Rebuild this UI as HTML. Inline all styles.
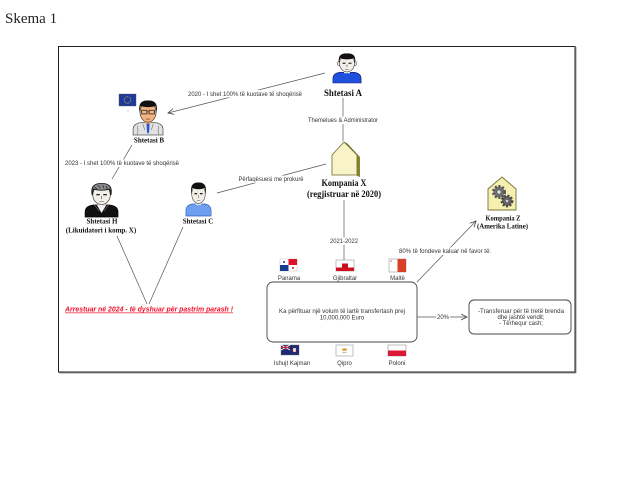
<!DOCTYPE html>
<html>
<head>
<meta charset="utf-8">
<style>
  html,body{margin:0;padding:0;background:#fff;}
  body{width:632px;height:480px;overflow:hidden;}
  svg{display:block;}
  .s{font-family:"Liberation Sans",sans-serif;font-size:6px;fill:#333;}
  .b{font-family:"Liberation Serif",serif;font-weight:bold;fill:#111;}
  .ln{stroke:#555;stroke-width:0.7;fill:none;}
</style>
</head>
<body>
<svg width="632" height="480" viewBox="0 0 632 480" xmlns="http://www.w3.org/2000/svg">
  <defs>
    <marker id="ah" markerWidth="8" markerHeight="8" refX="6" refY="3" orient="auto" markerUnits="userSpaceOnUse">
      <path d="M0,0 L6,3 L0,6" fill="none" stroke="#444" stroke-width="0.8"/>
    </marker>
  </defs>

  <!-- Title -->
  <text x="5" y="23" font-family="Liberation Serif, serif" font-size="15" fill="#222">Skema 1</text>

  <!-- Frame -->
  <line x1="576" y1="47" x2="576" y2="373" stroke="#999" stroke-width="1"/>
  <line x1="59" y1="373" x2="576" y2="373" stroke="#999" stroke-width="1"/>
  <rect x="58.5" y="46.5" width="516.5" height="325.5" fill="none" stroke="#222" stroke-width="1"/>

  <!-- Connectors -->
  <line class="ln" x1="325" y1="73" x2="168" y2="113" marker-end="url(#ah)"/>
  <line class="ln" x1="132" y1="145" x2="112" y2="179"/>
  <line class="ln" x1="217" y1="193" x2="326" y2="164"/>
  <line class="ln" x1="343" y1="98" x2="343" y2="141"/>
  <line class="ln" x1="344" y1="200" x2="344" y2="260"/>
  <line class="ln" x1="117" y1="236" x2="147" y2="304"/>
  <line class="ln" x1="183" y1="227" x2="149" y2="304"/>
  <line class="ln" x1="417" y1="282" x2="476" y2="221" marker-end="url(#ah)"/>
  <line class="ln" x1="417" y1="317" x2="467" y2="317" marker-end="url(#ah)"/>

  <!-- Connector labels -->
  <rect x="188" y="90" width="114" height="7.5" fill="#fff"/>
  <text class="s" x="245" y="96" text-anchor="middle" textLength="114" lengthAdjust="spacingAndGlyphs">2020 - I shet 100% të kuotave të shoqërisë</text>

  <rect x="65" y="159.5" width="114" height="7.5" fill="#fff"/>
  <text class="s" x="122" y="165" text-anchor="middle" textLength="114" lengthAdjust="spacingAndGlyphs">2023 - I shet 100% të kuotave të shoqërisë</text>

  <rect x="238" y="175.5" width="65" height="7.5" fill="#fff"/>
  <text class="s" x="271" y="181" text-anchor="middle" textLength="65" lengthAdjust="spacingAndGlyphs">Përfaqësuesi me prokurë</text>

  <rect x="307" y="116.5" width="72" height="7.5" fill="#fff"/>
  <text class="s" x="343" y="122" text-anchor="middle" textLength="70" lengthAdjust="spacingAndGlyphs">Themelues &amp; Administrator</text>

  <rect x="329" y="237.5" width="30" height="7.5" fill="#fff"/>
  <text class="s" x="344" y="243" text-anchor="middle" textLength="28" lengthAdjust="spacingAndGlyphs">2021-2022</text>

  <rect x="399" y="247.5" width="92" height="7.5" fill="#fff"/>
  <text class="s" x="445" y="253" text-anchor="middle" textLength="92" lengthAdjust="spacingAndGlyphs">80% të fondeve kaluar në favor të:</text>

  <rect x="436" y="313.5" width="14" height="7" fill="#fff"/>
  <text class="s" x="443" y="319" text-anchor="middle" textLength="12" lengthAdjust="spacingAndGlyphs">20%</text>

  <!-- Shtetasi A -->
  <g transform="translate(332,53) scale(1,0.88)">
    <path d="M1,34 L1,29 Q1,23 8,22 L22,22 Q29,23 29,29 L29,34 Z" fill="#2050e0" stroke="#102080" stroke-width="0.8"/>
    <rect x="12" y="17" width="6" height="6" fill="#eee9e0"/>
    <ellipse cx="7" cy="12" rx="1.6" ry="2.6" fill="#eee9e0" stroke="#333" stroke-width="0.5"/>
    <ellipse cx="23" cy="12" rx="1.6" ry="2.6" fill="#eee9e0" stroke="#333" stroke-width="0.5"/>
    <ellipse cx="15" cy="12" rx="7.5" ry="9.5" fill="#f2eee8" stroke="#333" stroke-width="0.6"/>
    <path d="M7,12 Q5,0 15,0.5 Q25,0 23,12 L22,6 Q15,8.5 8,6 Z" fill="#111"/>
    <rect x="10.5" y="11" width="3" height="1.3" fill="#222"/>
    <rect x="16.5" y="11" width="3" height="1.3" fill="#222"/>
    <path d="M15,13 L15,16 M13,18.5 L17,18.5" stroke="#555" stroke-width="0.6"/>
  </g>
  <text class="b" x="343" y="96" font-size="9" text-anchor="middle" textLength="38" lengthAdjust="spacingAndGlyphs">Shtetasi A</text>

  <!-- EU flag -->
  <rect x="119" y="94" width="17" height="12" fill="#1f3a9a" stroke="#556" stroke-width="0.4"/>
  <circle cx="127.5" cy="100" r="3.3" fill="none" stroke="#e8d020" stroke-width="0.8" stroke-dasharray="0.8 0.9"/>
  <rect x="127.5" y="110.5" width="1" height="1" fill="#999"/>

  <!-- Shtetasi B -->
  <g transform="translate(132,100) scale(1.07,1.03)">
    <path d="M1,34 L1,29 Q1,23 8,22 L22,22 Q29,23 29,29 L29,34 Z" fill="#e2e2e2" stroke="#555" stroke-width="0.7"/>
    <path d="M5,25 Q6,30 5,34 M25,25 Q24,30 25,34 M10,23 L12,29 M20,23 L18,29" stroke="#777" stroke-width="0.6" fill="none"/>
    <path d="M13.5,22 L16.5,22 L16,31 L15,33 L14,31 Z" fill="#2a4fd0"/>
    <rect x="12" y="17" width="6" height="6" fill="#f0a870"/>
    <ellipse cx="15" cy="12" rx="7.5" ry="9.5" fill="#f4b27c" stroke="#333" stroke-width="0.6"/>
    <path d="M7,12 Q5,0 15,0.5 Q25,0 23,12 L22,6 Q15,8 8,6 Z" fill="#111"/>
    <rect x="9" y="10" width="5" height="3.5" fill="none" stroke="#333" stroke-width="0.8"/>
    <rect x="16" y="10" width="5" height="3.5" fill="none" stroke="#333" stroke-width="0.8"/>
    <line x1="14" y1="11.5" x2="16" y2="11.5" stroke="#333" stroke-width="0.6"/>
    <path d="M13,18.5 L17,18.5" stroke="#633" stroke-width="0.6"/>
  </g>
  <text class="b" x="149" y="142.5" font-size="7" text-anchor="middle">Shtetasi B</text>

  <!-- Shtetasi H -->
  <g transform="translate(84,183) scale(1.17,1)">
    <path d="M1,34 L1,29 Q1,23 8,22 L22,22 Q29,23 29,29 L29,34 Z" fill="#111" stroke="#000" stroke-width="0.7"/>
    <path d="M11,22 L15,30 L19,22 Z" fill="#f4f4f4"/>
    <path d="M9,22 L13,28 M21,22 L17,28" stroke="#777" stroke-width="0.6"/>
    <rect x="12" y="17" width="6" height="6" fill="#eee9e0"/>
    <ellipse cx="15" cy="12" rx="7.5" ry="9.5" fill="#f2eee8" stroke="#333" stroke-width="0.6"/>
    <path d="M7,12 Q5,0 15,0.5 Q25,0 23,12 L22,6 Q15,8.5 8,6 Z" fill="#888" stroke="#111" stroke-width="0.8"/>
    <path d="M9,4 L11,6 M12,2 L14,5 M16,2 L17,5 M19,3 L20,6" stroke="#222" stroke-width="0.6"/>
    <rect x="10.5" y="11" width="3" height="1.3" fill="#222"/>
    <rect x="16.5" y="11" width="3" height="1.3" fill="#222"/>
    <path d="M15,13 L15,16 M13,18.5 L17,18.5" stroke="#555" stroke-width="0.6"/>
  </g>
  <text class="b" x="102" y="223.5" font-size="7" text-anchor="middle">Shtetasi H</text>
  <text class="b" x="101" y="232.5" font-size="7" text-anchor="middle">(Likuidatori i komp. X)</text>

  <!-- Shtetasi C -->
  <g transform="translate(185,182) scale(0.9,1)">
    <path d="M1,34 L1,29 Q1,23 8,22 L22,22 Q29,23 29,29 L29,34 Z" fill="#6fa0f0" stroke="#3060c0" stroke-width="0.7"/>
    <rect x="12" y="17" width="6" height="6" fill="#eee9e0"/>
    <ellipse cx="15" cy="12" rx="7.5" ry="9.5" fill="#f2eee8" stroke="#333" stroke-width="0.6"/>
    <path d="M7,12 Q5,0 15,0.5 Q25,0 23,12 L22,6 Q15,8.5 8,6 Z" fill="#111"/>
    <rect x="10.5" y="11" width="3" height="1.3" fill="#222"/>
    <rect x="16.5" y="11" width="3" height="1.3" fill="#222"/>
    <path d="M15,13 L15,16 M13,18.5 L17,18.5" stroke="#555" stroke-width="0.6"/>
  </g>
  <text class="b" x="198" y="223.5" font-size="7" text-anchor="middle">Shtetasi C</text>

  <!-- Kompania X -->
  <polygon points="347,143 360,157 360,177 357,176 357,156 344,142" fill="#8a8430"/>
  <polygon points="344,142 332,155 332,175 357,175 357,155" fill="#f8f4c8" stroke="#6a6630" stroke-width="0.8"/>
  <text class="b" x="344" y="186" font-size="9" text-anchor="middle" textLength="45" lengthAdjust="spacingAndGlyphs">Kompania X</text>
  <text class="b" x="344" y="197" font-size="9" text-anchor="middle" textLength="74" lengthAdjust="spacingAndGlyphs">(regjistruar në 2020)</text>

  <!-- Kompania Z -->
  <polygon points="502,177 488,189 488,210 516,210 516,189" fill="#f6f0b0" stroke="#77733a" stroke-width="0.9"/>
  <circle cx="499" cy="192" r="5.5" fill="#777" stroke="#555" stroke-width="3" stroke-dasharray="2 1.6"/>
  <circle cx="499" cy="192" r="2.2" fill="#ddd" stroke="#333" stroke-width="0.6"/>
  <circle cx="507" cy="201" r="5" fill="#666" stroke="#444" stroke-width="2.8" stroke-dasharray="1.9 1.5"/>
  <circle cx="507" cy="201" r="1.8" fill="#ccc" stroke="#333" stroke-width="0.5"/>
  <text class="b" x="503" y="220.5" font-size="7" text-anchor="middle" textLength="35" lengthAdjust="spacingAndGlyphs">Kompania Z</text>
  <text class="b" x="502.5" y="228.5" font-size="7" text-anchor="middle" textLength="51" lengthAdjust="spacingAndGlyphs">(Amerika Latine)</text>

  <!-- Red note -->
  <text x="65" y="311.5" font-family="Liberation Sans, sans-serif" font-size="7" font-weight="bold" font-style="italic" fill="#f0102a" text-decoration="underline" textLength="168" lengthAdjust="spacingAndGlyphs">Arrestuar në 2024 - të dyshuar për pastrim parash !</text>

  <!-- Flags top -->
  <rect x="280" y="259" width="17" height="12" fill="#fff" stroke="#bbb" stroke-width="0.5"/>
  <rect x="288.5" y="259" width="8.5" height="6" fill="#e0102a"/>
  <rect x="280" y="265" width="8.5" height="6" fill="#1a3c90"/>
  <circle cx="284" cy="262" r="1" fill="#1a3c90"/>
  <circle cx="293" cy="268" r="1" fill="#e0102a"/>
  <text class="s" x="289" y="280" text-anchor="middle">Panama</text>

  <rect x="336" y="260" width="18" height="11" fill="#fff" stroke="#999" stroke-width="0.6"/>
  <rect x="336" y="267.5" width="18" height="3.5" fill="#d01020"/>
  <rect x="342" y="263.5" width="6" height="4" fill="#c01020"/>
  <text class="s" x="345" y="280" text-anchor="middle">Gjibraltar</text>

  <rect x="389" y="259" width="17" height="13" fill="#fff" stroke="#999" stroke-width="0.6"/>
  <rect x="397.5" y="259" width="8.5" height="13" fill="#d8402a"/>
  <rect x="390.5" y="260.5" width="1.5" height="1.5" fill="#aaa"/>
  <text class="s" x="397.5" y="280" text-anchor="middle">Maltë</text>

  <!-- Main box -->
  <rect x="267" y="282" width="150" height="60" rx="6" ry="6" fill="#fff" stroke="#444" stroke-width="0.9"/>
  <text class="s" x="342" y="313" text-anchor="middle" textLength="126" lengthAdjust="spacingAndGlyphs">Ka përfituar një volum të lartë transfertash prej</text>
  <text class="s" x="342" y="319.5" text-anchor="middle">10,000,000 Euro</text>

  <!-- Second box -->
  <rect x="469" y="300" width="102" height="34" rx="5" ry="5" fill="#fff" stroke="#444" stroke-width="0.9"/>
  <text class="s" x="521" y="313" text-anchor="middle" textLength="86" lengthAdjust="spacingAndGlyphs">-Transferuar për të tretë brenda</text>
  <text class="s" x="521" y="319" text-anchor="middle">dhe jashtë vendit;</text>
  <text class="s" x="521" y="325" text-anchor="middle">- Tërhequr cash;</text>

  <!-- Flags bottom -->
  <rect x="281" y="345" width="18" height="10" fill="#1a2a70" stroke="#667" stroke-width="0.4"/>
  <path d="M281,345 L290,350 M290,345 L281,350" stroke="#fff" stroke-width="1"/>
  <path d="M285.5,345 L285.5,350 M281,347.5 L290,347.5" stroke="#d02030" stroke-width="1"/>
  <rect x="293" y="348" width="3" height="4" fill="#eee" stroke="#c03030" stroke-width="0.4"/>
  <text class="s" x="292" y="365" text-anchor="middle">Ishujt Kajman</text>

  <rect x="336" y="345" width="17" height="11" fill="#fff" stroke="#999" stroke-width="0.6"/>
  <ellipse cx="344.5" cy="349.5" rx="2.5" ry="1.3" fill="#e09a30"/>
  <path d="M342,352 Q344.5,353.5 347,352" stroke="#6a9a40" stroke-width="0.5" fill="none"/>
  <text class="s" x="344.5" y="365" text-anchor="middle">Qipro</text>

  <rect x="388" y="345" width="18" height="11" fill="#fff" stroke="#999" stroke-width="0.6"/>
  <rect x="388" y="350.5" width="18" height="5.5" fill="#dc1838"/>
  <text class="s" x="397" y="365" text-anchor="middle">Poloni</text>
</svg>
</body>
</html>
